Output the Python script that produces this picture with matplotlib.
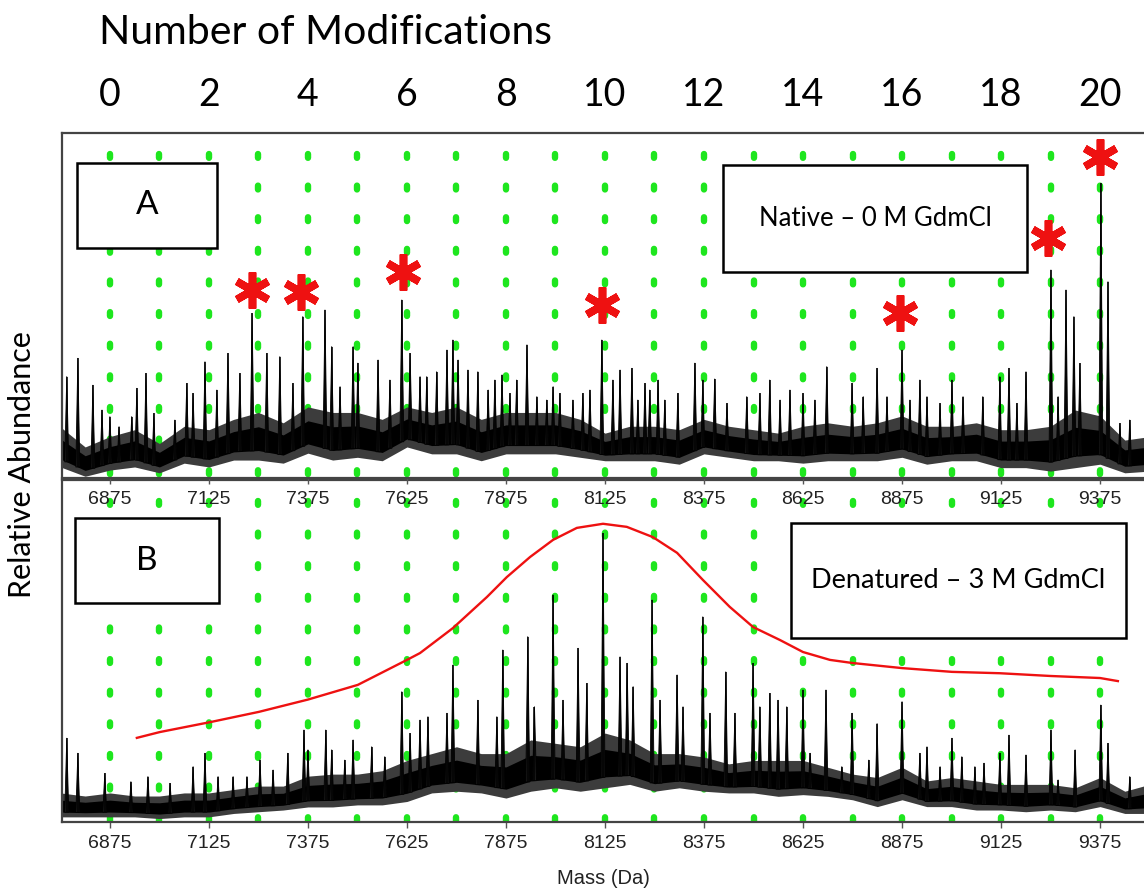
import numpy as np
import matplotlib
matplotlib.use("Agg")
import matplotlib.pyplot as plt
from matplotlib.patches import Rectangle
from matplotlib.collections import PolyCollection

# ---- axis ticks / labels ----
mass_ticks = [6875, 7125, 7375, 7625, 7875, 8125, 8375, 8625, 8875, 9125, 9375]
mod_labels = [0, 2, 4, 6, 8, 10, 12, 14, 16, 18, 20]
mod_mass = [6875, 7125, 7375, 7625, 7875, 8125, 8375, 8625, 8875, 9125, 9375]

# ---- panel A (native): noise band ----
band_mass = [6750, 6812.5, 6875, 6937.5, 7000, 7062.5, 7125, 7187.5, 7250, 7312.5,
             7375, 7437.5, 7500, 7562.5, 7625, 7687.5, 7750, 7812.5, 7875, 7937.5,
             8000, 8062.5, 8125, 8187.5, 8250, 8312.5, 8375, 8437.5, 8500, 8562.5,
             8625, 8687.5, 8750, 8812.5, 8875, 8937.5, 9000, 9062.5, 9125, 9187.5,
             9250, 9312.5, 9375, 9437.5, 9500]
a_band_hi = [14.8, 9, 12, 14, 10, 15, 14, 17, 19, 16,
             20.6, 19, 19, 17, 20.6, 19, 20.6, 17, 19, 19,
             19, 17, 13, 15, 15, 14, 17, 15, 14, 13,
             15, 16, 15, 16, 18, 15, 15, 16, 14, 14,
             15, 19.7, 18, 11, 12]
a_band_lo = [3.2, 0.5, 2.3, 3.2, 1.5, 4.3, 3.2, 5.2, 5.2, 4.3,
             7.2, 5.2, 6, 5, 9, 7, 7, 5, 7, 7,
             7, 6, 5, 5, 5, 4, 7, 6, 5, 5,
             4.3, 5, 5, 5, 6, 4, 5, 5, 3, 3,
             2, 3, 4, 1.5, 2]

# panel A spikes (mass, relative height)
a_peak_mass = [6766, 6794, 6832, 6855, 6875, 6898, 6930, 6943, 6966, 6986,
               7039, 7069, 7085, 7115, 7145, 7173, 7203, 7234, 7271, 7304,
               7337, 7362, 7418, 7435, 7456, 7489, 7501, 7552, 7582, 7612,
               7633, 7658, 7675, 7700, 7726, 7741, 7754, 7779, 7804, 7830,
               7847, 7865, 7885, 7902, 7928, 7953, 7978, 7994, 8011, 8044,
               8069, 8087, 8117, 8145, 8163, 8193, 8208, 8226, 8238, 8259,
               8276, 8309, 8352, 8372, 8402, 8433, 8483, 8516, 8541, 8567,
               8592, 8625, 8655, 8685, 8749, 8777, 8812, 8837, 8875, 8895,
               8920, 8938, 8971, 9001, 9029, 9079, 9122, 9145, 9165, 9188,
               9251, 9269, 9289, 9309, 9324, 9377, 9395, 9425, 9450]
a_peak_height = [29.4, 34.7, 26.9, 19.7, 17.8, 14.9, 17.8, 26, 30.3, 18.7,
                 16.8, 27.4, 24.5, 33.7, 25.5, 36.1, 30.3, 47.7, 36.1, 35.2,
                 27.4, 46.8, 48.7, 38.1, 26.5, 38.1, 33.3, 34.2, 28.4, 51.6,
                 36.1, 29.4, 29.4, 30.8, 37.1, 40, 34.2, 31.3, 30.8, 25.5,
                 28.4, 29.9, 24.5, 28.4, 38.6, 23.6, 22.6, 26.5, 24.5, 22.6,
                 24.5, 25.5, 40, 28.4, 31.3, 31.8, 22.6, 27.4, 25.5, 28.4,
                 22.6, 24.5, 33.3, 28.4, 28.7, 21.6, 23.6, 24.5, 28.4, 22.6,
                 25.5, 24.5, 22.6, 32.3, 27.4, 23.6, 31.8, 23.6, 37.1, 22.6,
                 28.4, 23.6, 21.6, 28.4, 23.6, 23.6, 29.4, 31.8, 21.6, 30.8,
                 60.3, 23.6, 54.5, 46.8, 33.2, 85.4, 56.9, 15.8, 16.8]

# asterisks marking modified species in panel A
star_mass = [7234, 7357, 7615, 8117, 8870, 9243, 9375]
star_y = [54.5, 53.9, 59.7, 50.1, 47.8, 69.6, 93.0]

# ---- panel B (denatured) ----
b_band_hi = [8.5, 7.6, 8.5, 7.6, 7.6, 8.5, 8.5, 9.5, 10.5, 10.5,
             13.4, 14, 14, 15, 18, 20, 22, 20, 20, 24,
             23, 22, 26, 24, 20, 20, 19, 17, 18, 18,
             18, 16, 14, 13, 16, 12, 13, 12, 11, 11,
             11, 10, 13, 9, 11]
b_band_lo = [1.5, 1.5, 1.5, 1.5, 1, 1.5, 1.5, 2.5, 3, 3.5,
             4.4, 4.4, 5, 5, 6, 8.5, 9, 8.5, 7, 9,
             10, 9, 10, 11, 9, 10, 9, 8.5, 8.5, 7.5,
             8, 7.5, 6.5, 4.5, 6.5, 4.5, 4.5, 3.5, 3.5, 3,
             3.5, 3, 4.5, 2.5, 2.5]

b_peak_mass = [6766, 6794, 6862, 6928, 6971, 7027, 7085, 7115, 7148, 7186,
               7221, 7254, 7287, 7324, 7365, 7375, 7420, 7435, 7468, 7489,
               7536, 7569, 7612, 7633, 7658, 7678, 7726, 7741, 7804, 7852,
               7867, 7930, 7947, 7994, 8019, 8057, 8079, 8120, 8163, 8181,
               8196, 8244, 8264, 8307, 8322, 8372, 8390, 8430, 8453, 8499,
               8516, 8541, 8562, 8584, 8625, 8643, 8683, 8723, 8749, 8791,
               8812, 8875, 8920, 8938, 8971, 9001, 9026, 9059, 9082, 9122,
               9145, 9188, 9251, 9269, 9312, 9377, 9395, 9450]
b_peak_height = [24.5, 20.1, 14.2, 11.8, 13.3, 11.3, 16.2, 20.1, 13.3, 13.3,
                 13.3, 18.1, 15.2, 20.1, 26.9, 21.1, 26.9, 21.1, 18.1, 24,
                 22, 19.1, 38.1, 25.9, 29.8, 30.8, 31.8, 45.9, 35.6, 30.8,
                 50.3, 54.2, 33.7, 66.4, 35.6, 50.8, 40.5, 84.4, 48.3, 46.4,
                 39.6, 64.9, 35.6, 43, 33.7, 60, 31.8, 43.9, 31.8, 46.4,
                 33.7, 37.6, 35.6, 33.7, 38.6, 20.1, 38.6, 16.2, 31.8, 18.1,
                 28.8, 35.2, 20.1, 22, 16.2, 24.5, 19.1, 16.2, 17.2, 20.1,
                 25.4, 19.6, 26.9, 12.3, 21.1, 34.2, 23, 13.3]

# red envelope drawn over panel B
env_mass = [6943, 7001, 7128, 7251, 7375, 7501, 7625, 7658, 7741, 7827, 7877,
            7936, 7994, 8054, 8120, 8180, 8246, 8307, 8372, 8440, 8499, 8567,
            8625, 8693, 8749, 8875, 9001, 9122, 9249, 9375, 9420]
env_y = [24.6, 26.3, 29.2, 32.2, 35.8, 40.1, 47.4, 49.4, 56.7, 65.8, 71.6,
         77.5, 82.5, 86.0, 87.2, 86.3, 83.3, 78.7, 70.8, 62.9, 57.0, 53.2,
         49.7, 47.4, 46.5, 45.0, 43.9, 43.5, 42.7, 42.1, 41.2]

GREEN = "#1ee61e"
RED = "#ee1111"
W, H = 1144, 890
calibri_like = ["Lato", "DejaVu Sans"]
arial_like = ["Liberation Sans", "DejaVu Sans"]

fig = plt.figure(figsize=(W / 100, H / 100), dpi=100)


def fig_rect(x0, y0, x1, y1):
    # pixel box (top-left origin) -> figure fraction rectangle
    return [x0 / W, 1 - y1 / H, (x1 - x0) / W, (y1 - y0) / H]


ax_b = fig.add_axes(fig_rect(62, 480, 1146, 822))
ax_a = fig.add_axes(fig_rect(62, 133, 1146, 478))

grid_mass = np.arange(6875, 9376, 125)

for ax, lo, hi, pm, ph in [(ax_a, a_band_lo, a_band_hi, a_peak_mass, a_peak_height),
                           (ax_b, b_band_lo, b_band_hi, b_peak_mass, b_peak_height)]:
    ax.set_facecolor("none")
    ax.set_xlim(6754, 9491)
    ax.set_ylim(0, 100)
    for m in grid_mass:
        ax.plot([m, m], [94.0, -2], color=GREEN, lw=4.6, dashes=(0.6, 4.35),
                dash_capstyle="round", zorder=1)
    lo = np.array(lo)
    hi = np.array(hi)
    # grey fringe + solid black core of the noise band
    ax.fill_between(band_mass, lo, hi, color="#3c3c3c", lw=0, zorder=2)
    core_lo = lo + 0.2 * (hi - lo)
    core_hi = hi - 0.3 * (hi - lo)
    ax.fill_between(band_mass, core_lo, core_hi, color="black", lw=0, zorder=2)
    base = np.interp(pm, band_mass, core_lo)
    tents = [[(m - 5, b), (m, h), (m + 5, b)] for m, b, h in zip(pm, base, ph)]
    ax.add_collection(PolyCollection(tents, facecolor="#1a1a1a", edgecolor="black",
                                     lw=0.6, zorder=2))
    ax.vlines(pm, base, ph, color="black", lw=1.1, zorder=2)
    ax.set_yticks([])
    ax.set_xticks(mass_ticks)
    ax.set_xticklabels([str(t) for t in mass_ticks], fontfamily=arial_like)
    ax.tick_params(axis="x", labelsize=14, length=4, width=1, color="#555555",
                   pad=5, labelcolor="#222222")
    for s in ax.spines.values():
        s.set_color("#444444")
        s.set_linewidth(1.6)

ax_b.plot(env_mass, env_y, color=RED, lw=1.7, zorder=3, solid_joinstyle="round")
ax_a.plot(star_mass, star_y, ls="none", marker=(6, 2, 0), ms=26, mew=5.5,
          color=RED, zorder=4)

# number-of-modifications scale above panel A
for n, m in zip(mod_labels, mod_mass):
    ax_a.text(m, 1.11, str(n), transform=ax_a.get_xaxis_transform(),
              ha="center", va="center", fontsize=27, family=calibri_like)
fig.text(325 / W, 1 - 32 / H, "Number of Modifications", ha="center", va="center",
         fontsize=29.5, family=calibri_like)

# labelled boxes
boxes = [((77, 163, 217, 248), "A", 24),
         ((723, 165, 1027, 272), "Native \u2013 0 M GdmCl", 18.5),
         ((75, 518, 219, 603), "B", 24),
         ((791, 523, 1126, 638), "Denatured \u2013 3 M GdmCl", 19.5)]
for (x0, y0, x1, y1), label, size in boxes:
    r = fig_rect(x0, y0, x1, y1)
    fig.add_artist(Rectangle((r[0], r[1]), r[2], r[3], transform=fig.transFigure,
                             facecolor="white", edgecolor="black", lw=1.8, zorder=10))
    fig.text(r[0] + r[2] / 2, r[1] + r[3] / 2, label, ha="center", va="center",
             fontsize=size, family=calibri_like, zorder=11)

fig.text(22 / W, 1 - 465 / H, "Relative Abundance", rotation=90, ha="center",
         va="center", fontsize=22, family=calibri_like)
fig.text(603 / W, 1 - 878 / H, "Mass (Da)", ha="center", va="center",
         fontsize=14.5, family=arial_like, color="#222222")

fig.savefig("out.png", dpi=100)
